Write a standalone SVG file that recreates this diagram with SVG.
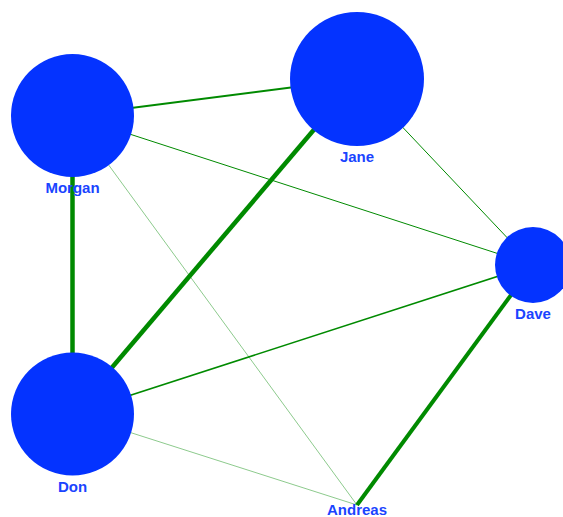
<svg xmlns="http://www.w3.org/2000/svg" width="563" height="517" viewBox="0 0 563 517">
<style>
.edge{stroke:#008a00;fill:none;stroke-linecap:butt}
.faint{stroke:#008a00;stroke-opacity:0.45}
.node circle{fill:#0433ff}
.node text{font-family:"Liberation Sans",Arial,sans-serif;font-size:15px;font-weight:bold;fill:#1a44ff;text-anchor:middle}
</style>
<rect width="563" height="517" fill="#ffffff"/>
<g id="connectors">
<line class="edge" x1="72.5" y1="115.5" x2="357" y2="79" stroke-width="2"/>
<line class="edge" x1="72.5" y1="115.5" x2="72.5" y2="414" stroke-width="4.5"/>
<line class="edge" x1="72.5" y1="115.5" x2="533" y2="265" stroke-width="1"/>
<line class="edge faint" x1="72.5" y1="115.5" x2="357" y2="505" stroke-width="1"/>
<line class="edge" x1="357" y1="79" x2="72.5" y2="414" stroke-width="4.5"/>
<line class="edge" x1="357" y1="79" x2="533" y2="265" stroke-width="1"/>
<line class="edge" x1="72.5" y1="414" x2="533" y2="265" stroke-width="1.6"/>
<line class="edge faint" x1="72.5" y1="414" x2="357" y2="505" stroke-width="1"/>
<line class="edge" x1="533" y1="265" x2="357" y2="505" stroke-width="4"/>
</g>
<g id="node-morgan" class="node"><circle cx="72.5" cy="115.5" r="61.5"/><text x="72.5" y="193">Morgan</text></g>
<g id="node-jane" class="node"><circle cx="357" cy="79" r="67"/><text x="357" y="162">Jane</text></g>
<g id="node-dave" class="node"><circle cx="533" cy="265" r="38"/><text x="533" y="319">Dave</text></g>
<g id="node-don" class="node"><circle cx="72.5" cy="414" r="61.5"/><text x="72.5" y="492">Don</text></g>
<g id="node-andreas" class="node"><text x="357" y="515">Andreas</text></g>
</svg>
